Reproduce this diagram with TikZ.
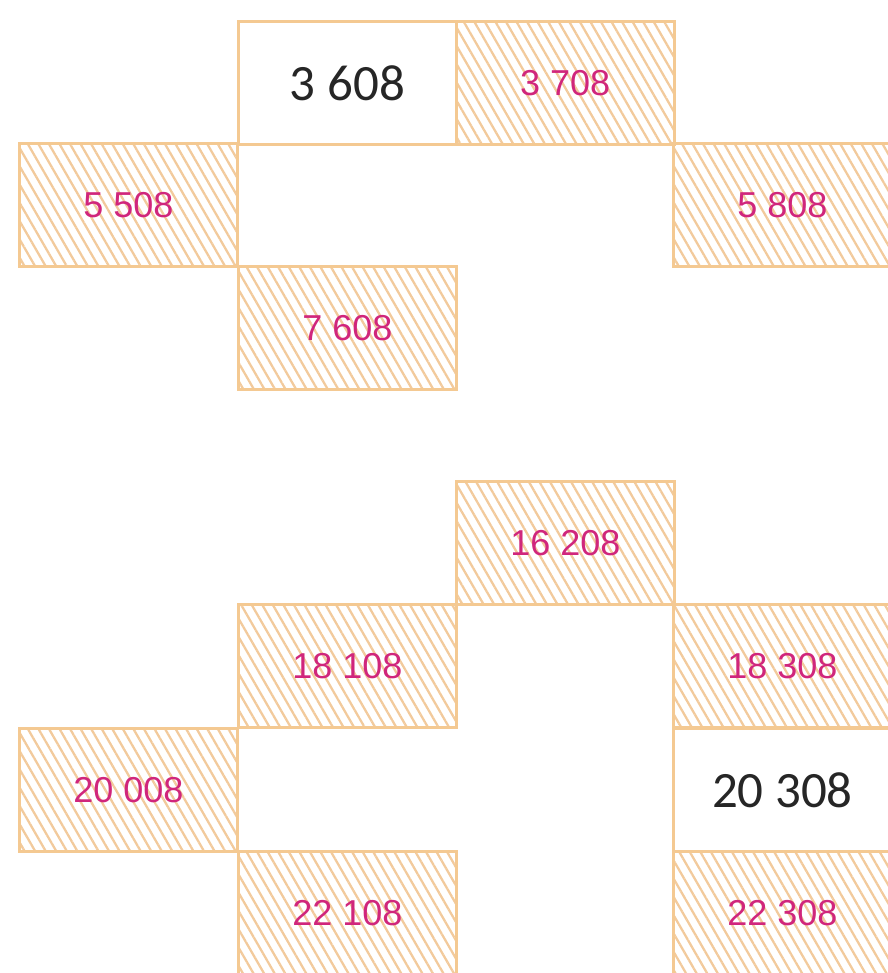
\documentclass[tikz,border=0pt]{standalone}
\usepackage{fontspec}
\setmainfont{Liberation Sans}
\newfontfamily\bigdigits{Carlito}
\usetikzlibrary{patterns.meta}
\definecolor{cellline}{HTML}{F4C992}
\definecolor{hatchline}{HTML}{F2CA9C}
\definecolor{numpink}{HTML}{D0267C}

\begin{document}
\begin{tikzpicture}[
      cell/.style={draw=cellline,line width=1.6pt,minimum width=4.36cm,
        minimum height=2.46cm,anchor=north west,inner sep=0pt},
      hatched/.style={cell,pattern={Lines[angle=-60,distance=5.2pt,line width=1.3pt]},
        pattern color=hatchline,text=numpink,font=\fontsize{20.5}{21}\selectfont},
      plain/.style={cell,fill=white,text=black!85,font=\bigdigits\fontsize{29}{29}\selectfont}]
    \useasboundingbox (0,0) rectangle (17.74,19.46);
    % upper block
    \node[hatched] (n3708) at (9.10,19.06) {3 708};
    \node[hatched] (n5508) at (0.36,16.62) {5 508};
    \node[hatched] (n5808) at (13.44,16.62) {5 808};
    \node[hatched] (n7608) at (4.74,14.16) {7 608};
    \node[plain] (n3608) at (4.74,19.06) {3 608};
    % lower block
    \node[hatched] (n16208) at (9.10,9.86) {16 208};
    \node[hatched] (n18108) at (4.74,7.40) {18 108};
    \node[hatched] (n18308) at (13.44,7.40) {18 308};
    \node[hatched] (n20008) at (0.36,4.92) {20 008};
    \node[hatched] (n22108) at (4.74,2.46) {22 108};
    \node[hatched] (n22308) at (13.44,2.46) {22 308};
    \node[plain] (n20308) at (13.44,4.92) {20 308};
  \end{tikzpicture}
\end{document}
